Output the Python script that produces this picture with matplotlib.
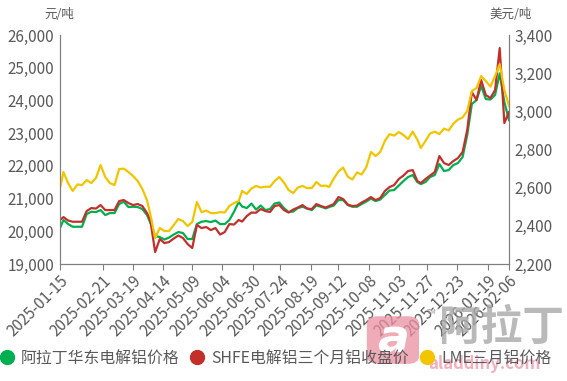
import numpy as np
import pandas as pd
import matplotlib
matplotlib.use('Agg')
import matplotlib.pyplot as plt
from matplotlib.lines import Line2D
from matplotlib.patches import FancyBboxPatch
from matplotlib.ticker import FuncFormatter, MultipleLocator

plt.rcParams['font.family'] = ['Noto Sans CJK SC', 'DejaVu Sans']

start = '2025-01-15'
end = '2026-02-06'
# readings taken at 99 evenly spaced points over the period
dates = pd.date_range(start, end, periods=99).normalize()

aladdin_east = [
    20100, 20345, 20222, 20140, 20140, 20140, 20528, 20598, 20589, 20650,
    20497, 20559, 20559, 20834, 20904, 20742, 20751, 20742, 20681, 20497,
    20253, 19855, 19825, 19748, 19810, 19901, 19978, 19947, 19764, 19764,
    20222, 20293, 20314, 20283, 20329, 20222, 20222, 20345, 20598, 20895,
    20757, 20711, 20849, 20665, 20788, 20650, 20681, 20849, 20880, 20711,
    20589, 20604, 20711, 20751, 20696, 20650, 20788, 20751, 20702, 20742,
    20788, 20956, 20956, 20803, 20751, 20751, 20834, 20910, 21002, 20925,
    20971, 21109, 21246, 21262, 21399, 21537, 21659, 21720, 21506, 21445,
    21506, 21659, 21720, 22056, 21842, 21873, 22026, 22087, 22270, 22943,
    23891, 24013, 24441, 24044, 24028, 24166, 24829, 23952, 23400,
]

shfe_3m = [
    20345, 20436, 20329, 20293, 20293, 20293, 20620, 20711, 20696, 20803,
    20650, 20650, 20650, 20925, 20956, 20864, 20803, 20834, 20773, 20559,
    20314, 19366, 19764, 19641, 19672, 19779, 19871, 19794, 19611, 19489,
    20192, 20100, 20131, 20039, 20100, 19901, 19978, 20222, 20207, 20345,
    20299, 20467, 20574, 20568, 20681, 20620, 20589, 20773, 20803, 20650,
    20574, 20665, 20727, 20803, 20696, 20681, 20834, 20773, 20727, 20773,
    20834, 21048, 20987, 20818, 20773, 20788, 20880, 20956, 21048, 20956,
    21017, 21231, 21353, 21414, 21598, 21705, 21842, 21873, 21537, 21476,
    21598, 21705, 21812, 22301, 22087, 22026, 22148, 22240, 22423, 23096,
    24258, 24013, 24624, 24166, 24074, 24319, 25603, 23310, 23646,
]

lme_3m = [
    2598, 2682, 2624, 2583, 2617, 2614, 2640, 2624, 2651, 2719,
    2656, 2624, 2614, 2698, 2700, 2682, 2661, 2635, 2593, 2535,
    2457, 2336, 2389, 2373, 2373, 2404, 2436, 2425, 2399, 2420,
    2525, 2472, 2480, 2467, 2467, 2472, 2470, 2504, 2520, 2530,
    2583, 2567, 2596, 2609, 2601, 2605, 2605, 2635, 2656, 2627,
    2588, 2572, 2601, 2609, 2598, 2598, 2630, 2609, 2611, 2604,
    2648, 2685, 2706, 2658, 2643, 2680, 2669, 2708, 2787, 2766,
    2787, 2845, 2881, 2873, 2892, 2876, 2855, 2894, 2852, 2808,
    2845, 2884, 2894, 2881, 2910, 2900, 2935, 2957, 2968, 3002,
    3107, 3122, 3185, 3159, 3130, 3185, 3248, 3112, 3028,
]

tick_dates = ['2025-01-15', '2025-02-21', '2025-03-19', '2025-04-14', '2025-05-09',
              '2025-06-04', '2025-06-30', '2025-07-24', '2025-08-19', '2025-09-12',
              '2025-10-08', '2025-11-03', '2025-11-27', '2025-12-23', '2026-01-19',
              '2026-02-06']

labels = ['阿拉丁华东电解铝价格', 'SHFE电解铝三个月铝收盘价', 'LME三月铝价格']
colors = ['#00B050', '#C3302C', '#F2C500']

fig = plt.figure(figsize=(5.67, 3.81), dpi=100)
ax = fig.add_axes([0.1058, 0.307, 0.7919, 0.601])
ax2 = ax.twinx()

ax.plot(dates, aladdin_east, color=colors[0], lw=1.6, zorder=2)
ax.plot(dates, shfe_3m, color=colors[1], lw=1.6, zorder=3)
ax2.plot(dates, lme_3m, color=colors[2], lw=1.6)

txt = '#595959'
axc = '#7f7f7f'
ax.set_xlim(pd.Timestamp(start), pd.Timestamp(end))
ax.set_ylim(19000, 26000)
ax2.set_ylim(2200, 3400)
ax.yaxis.set_major_locator(MultipleLocator(1000))
ax2.yaxis.set_major_locator(MultipleLocator(200))
fmt = FuncFormatter(lambda v, p: f'{v:,.0f}')
ax.yaxis.set_major_formatter(fmt)
ax2.yaxis.set_major_formatter(fmt)

ax.set_xticks(pd.to_datetime(tick_dates))
ax.set_xticklabels(tick_dates, rotation=45, ha='right', rotation_mode='anchor')

for a in (ax, ax2):
    a.spines['top'].set_visible(False)
    for s in ('left', 'right', 'bottom'):
        a.spines[s].set_color(axc)
    a.tick_params(axis='y', length=0, labelsize=11, labelcolor=txt, pad=4)
ax.tick_params(axis='x', length=4, color=axc, labelsize=11, labelcolor=txt, pad=2)

fig.text(0.104, 0.962, '元/吨', fontsize=9, color=txt, ha='center', va='center')
fig.text(0.9, 0.962, '美元/吨', fontsize=9, color=txt, ha='center', va='center')

# aladdiny logo at lower right (sits under the legend)
logo = FancyBboxPatch((0.652, 0.05), 0.082, 0.115, boxstyle='round,pad=0.005,rounding_size=0.02',
                      transform=fig.transFigure, fc='#ec8fa0', ec='none', alpha=0.75, zorder=0)
fig.patches.append(logo)
fig.text(0.693, 0.108, 'a', fontsize=34, color='white', style='italic', fontweight='bold',
         ha='center', va='center', family='DejaVu Sans', zorder=1)
fig.text(0.762, 0.182, 'TM', fontsize=5, color='#999999', ha='center', va='center', zorder=1)
fig.text(0.885, 0.14, '阿拉丁', fontsize=30, color='#a8a8a8', alpha=0.8,
         ha='center', va='center', fontweight='bold', zorder=1)
fig.text(0.855, 0.045, 'aladdiny.com', fontsize=12, color='#ec8fa0', alpha=0.7,
         style='italic', ha='center', va='center', fontweight='bold', zorder=1)

handles = [Line2D([], [], ls='', marker='o', ms=10, color=c) for c in colors]
fig.legend(handles, labels, loc='lower left', bbox_to_anchor=(-0.027, 0.0),
           ncol=3, frameon=False, fontsize=11.4, labelcolor=txt,
           handlelength=1.0, handletextpad=0.4, columnspacing=0.6)

fig.savefig('out.png', dpi=100)
